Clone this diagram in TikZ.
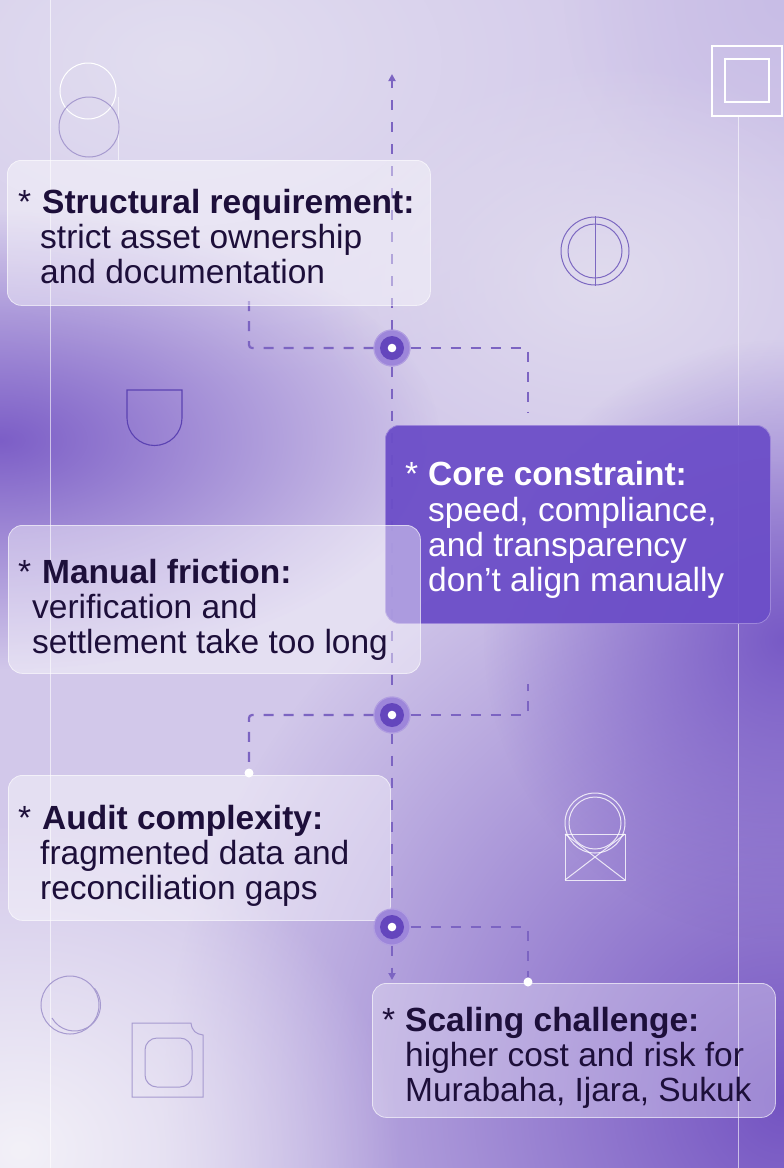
\documentclass[tikz,border=0pt]{standalone}
\usepackage{fontspec}
\setmainfont{Liberation Sans}
\usetikzlibrary{arrows.meta,fadings}
\definecolor{ink}{HTML}{1D0F3A}
\definecolor{bgbase}{HTML}{D2C8EA}
\definecolor{dashc}{HTML}{7C64C2}
\definecolor{hubring}{HTML}{9D86DA}
\definecolor{hubcore}{HTML}{6446BD}
\definecolor{coreboxc}{HTML}{6C4EC8}
\definecolor{iconp}{HTML}{5B42B2}
\definecolor{iconl}{HTML}{A69ACF}
\tikzfading[name=blob, inner color=transparent!0, outer color=transparent!100]
\begin{document}
\begin{tikzpicture}[x=1pt,y=-1pt,
  lbox/.style={draw=white, draw opacity=0.65, line width=0.8pt, fill=white, fill opacity=0.42, rounded corners=14pt},
  cbox/.style={draw=hubring, line width=0.8pt, fill=coreboxc, fill opacity=0.95, rounded corners=14pt},
  txt/.style={anchor=base west, inner sep=0pt, text=ink, font=\fontsize{33.5}{35}\selectfont},
  ttl/.style={txt, font=\fontsize{33.5}{35}\selectfont\bfseries},
  wtxt/.style={txt, text=white},
  wttl/.style={ttl, text=white},
  dline/.style={draw=dashc, line width=2.2pt, dash pattern=on 10pt off 12pt},
  bline/.style={draw=dashc, line width=2.2pt, dash pattern=on 10pt off 10pt, rounded corners=3pt},
  hub/.style={circle, minimum size=36pt, inner sep=0pt, fill=hubring, draw=hubring!80!white, line width=1pt},
  wdot/.style={circle, fill=white, minimum size=9pt, inner sep=0pt},
  faint/.style={draw=white, draw opacity=0.6, line width=1pt}
]
\useasboundingbox (0,0) rectangle (784,1168);
% background
\fill[bgbase] (0,0) rectangle (784,1168);
\begin{scope}
\clip (0,0) rectangle (784,1168);
\fill[color={rgb,255:red,226;green,222;blue,240}, path fading=blob] (180,60) ellipse (520pt and 330pt);
\fill[color={rgb,255:red,200;green,189;blue,230}, path fading=blob] (784,0) circle (220pt);
\fill[color={rgb,255:red,224;green,219;blue,238}, path fading=blob] (600,280) ellipse (300pt and 220pt);
\fill[color={rgb,255:red,124;green,94;blue,199}, path fading=blob] (0,440) ellipse (440pt and 230pt);
\fill[color={rgb,255:red,116;green,84;blue,194}, path fading=blob] (784,1100) ellipse (620pt and 640pt);
\fill[color={rgb,255:red,120;green,90;blue,198}, path fading=blob] (784,640) ellipse (300pt and 300pt);
\fill[color={rgb,255:red,243;green,241;blue,248}, path fading=blob] (20,1150) ellipse (380pt and 330pt);
\end{scope}
% faint vertical lines
\draw[faint] (50,0) -- (50,1168);
\draw[faint] (118,97) -- (118,160);
\draw[faint] (738,116) -- (738,1168);
% decorative icons
\draw[white, line width=1pt] (88,91) circle (28pt);
\draw[iconl, line width=1pt] (89,127) circle (30pt);
\draw[white, line width=1.2pt] (712,46) rectangle (782,116);
\draw[white, line width=1.2pt] (725,59) rectangle (769,102);
\draw[iconp!80!white, line width=1pt] (595,251) circle (34pt);
\draw[iconp!80!white, line width=1pt] (595,251) circle (27pt);
\draw[iconp!80!white, line width=1pt] (595,216) -- (595,286);
\draw[iconp, line width=1.1pt] (182,418) -- (182,390) -- (127,390) -- (127,418) arc (180:360:27.5pt);
\draw[white, opacity=0.8, line width=1pt] (595,823) circle (30pt);
\draw[white, opacity=0.8, line width=1pt] (595,823) circle (26pt);
\draw[white, opacity=0.8, line width=1pt] (565,834) rectangle (625,880);
\draw[white, opacity=0.8, line width=1pt] (565,834) -- (625,880) (625,834) -- (565,880);
\draw[iconl, line width=1pt] (70,1005) circle (29pt);
\draw[iconl, line width=1pt] (52,1018) arc (210:400:26pt);
\draw[iconl, line width=1pt] (132,1023) -- (191,1023) .. controls (192,1031) and (196,1034) .. (203,1035) -- (203,1097) -- (132,1097) -- cycle;
\draw[iconl, line width=1pt, rounded corners=12pt] (145,1038) rectangle (192,1087);
% hubs and coordinates
\node[hub] (h1) at (392,348) {};
\node[hub] (h2) at (392,715) {};
\node[hub] (h3) at (392,927) {};
\coordinate (top) at (392,74);
\coordinate (bot) at (392,980);
\coordinate (l1) at (249,348); \coordinate (l1e) at (249,300);
\coordinate (r1) at (528,348); \coordinate (r1e) at (528,412);
\coordinate (l2) at (249,715);
\coordinate (r2) at (528,715); \coordinate (r2e) at (528,684);
\coordinate (r3) at (528,927);
% dashed connectors
\draw[dline, -{Triangle[length=7pt,width=7pt]}] (h1) -- (top);
\draw[dline] (h1) -- (h2);
\draw[dline] (h2) -- (h3);
\draw[dline, -{Triangle[length=7pt,width=7pt]}] (h3) -- (bot);
\draw[bline] (h1) -- (l1) -- (l1e);
\draw[bline] (h1) -- (r1) -- (r1e);
\draw[bline] (h2) -- (r2) -- (r2e);
% boxes
\node[lbox, minimum width=423pt, minimum height=145pt, anchor=north west] (b1) at (7,160) {};
\node[cbox, minimum width=385pt, minimum height=198pt, anchor=north west] (b2) at (385,425) {};
\node[lbox, minimum width=412pt, minimum height=148pt, anchor=north west] (b3) at (8,525) {};
\node[lbox, minimum width=382pt, minimum height=145pt, anchor=north west] (b4) at (8,775) {};
\node[lbox, fill opacity=0.3, minimum width=403pt, minimum height=134pt, anchor=north west] (b5) at (372,983) {};
% branches to lower boxes
\node[wdot] (d2) at (249,773) {};
\node[wdot] (d3) at (528,982) {};
\draw[bline] (h2) -- (l2) -- (d2);
\draw[bline] (h3) -- (r3) -- (d3);
% hub cores (redraw on top)
\foreach \h in {h1,h2,h3}{
  \node[hub] at (\h) {};
  \fill[hubcore] (\h) circle (12pt);
  \fill[white] (\h) circle (4.3pt);
}
% texts box 1
\node[txt] (a1) at (18,213) {*};
\node[ttl] (t1) at (42,213) {Structural requirement:};
\node[txt] (t1a) at (40,248) {strict asset ownership};
\node[txt] (t1b) at (40,283) {and documentation};
% box 2
\node[wtxt] (a2) at (405,485) {*};
\node[wttl] (t2) at (428,485) {Core constraint:};
\node[wtxt] (t2a) at (428,521) {speed, compliance,};
\node[wtxt] (t2b) at (428,556) {and transparency};
\node[wtxt] (t2c) at (428,591) {don't align manually};
% box 3
\node[txt] (a3) at (18,583) {*};
\node[ttl] (t3) at (42,583) {Manual friction:};
\node[txt] (t3a) at (32,618) {verification and};
\node[txt] (t3b) at (32,653) {settlement take too long};
% box 4
\node[txt] (a4) at (18,829) {*};
\node[ttl] (t4) at (42,829) {Audit complexity:};
\node[txt] (t4a) at (40,864) {fragmented data and};
\node[txt] (t4b) at (40,899) {reconciliation gaps};
% box 5
\node[txt] (a5) at (382,1031) {*};
\node[ttl] (t5) at (405,1031) {Scaling challenge:};
\node[txt] (t5a) at (405,1066) {higher cost and risk for};
\node[txt] (t5b) at (405,1101) {Murabaha, Ijara, Sukuk};
\end{tikzpicture}
\end{document}
